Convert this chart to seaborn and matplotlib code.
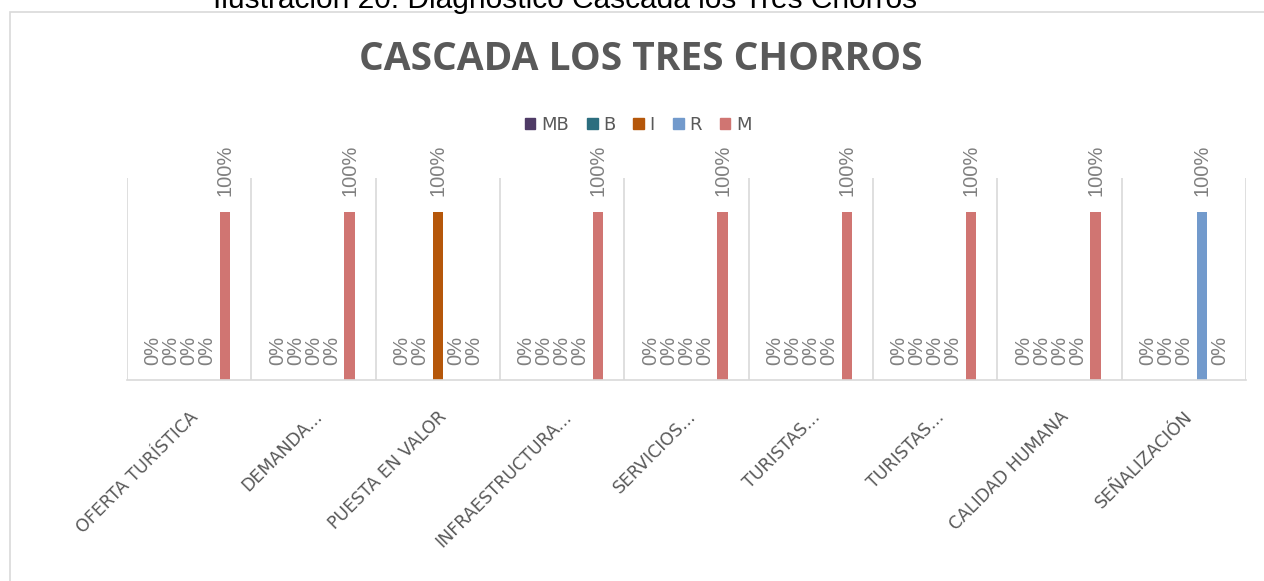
import numpy as np
import pandas as pd
import matplotlib
matplotlib.use("Agg")
from matplotlib import pyplot as plt
from matplotlib.patches import Rectangle
import seaborn as sns

# categorias del diagnostico
categorias = ["OFERTA TURÍSTICA", "DEMANDA...", "PUESTA EN VALOR", "INFRAESTRUCTURA...",
              "SERVICIOS...", "TURISTAS...", "TURISTAS...", "CALIDAD HUMANA", "SEÑALIZACIÓN"]
series = ["MB", "B", "I", "R", "M"]

# valores en %
mb = [0, 0, 0, 0, 0, 0, 0, 0, 0]
b = [0, 0, 0, 0, 0, 0, 0, 0, 0]
i_val = [0, 0, 100, 0, 0, 0, 0, 0, 0]
r = [0, 0, 0, 0, 0, 0, 0, 0, 100]
m = [100, 100, 0, 100, 100, 100, 100, 100, 0]

colores = ["#4F3B66", "#2C6E7F", "#B5570A", "#729ACC", "#D07572"]

rows = []
for nombre, vals in zip(series, [mb, b, i_val, r, m]):
    for k, v in enumerate(vals):
        rows.append({"cat": k, "serie": nombre, "valor": v})
df = pd.DataFrame(rows)

sns.set_style("white")
plt.rcParams['font.family'] = ['DejaVu Sans']

fig = plt.figure(figsize=(12.64, 5.81), dpi=100)
ax = fig.add_axes([127/1264, 1-380/581, (1246-127)/1264, (380-178)/581])

sns.barplot(data=df, x="cat", y="valor", hue="serie", hue_order=series,
            palette=colores, width=0.724, gap=0.44, ax=ax, legend=False,
            saturation=1, linewidth=0)

ax.set_ylim(0, 120)
ax.set_xlim(-0.5, len(categorias) - 0.5)
ax.set_yticks([])
ax.set_ylabel("")
ax.set_xlabel("")
for s in ["top", "right", "left"]:
    ax.spines[s].set_visible(False)
ax.spines["bottom"].set_color("#D9D9D9")
ax.spines["bottom"].set_linewidth(1.2)

# lineas verticales entre categorias
for k in range(len(categorias) + 1):
    ax.axvline(k - 0.5, color="#D9D9D9", lw=1.2, zorder=0)

# etiquetas de datos
for cont in ax.containers:
    ax.bar_label(cont, labels=[f"{int(v)}%" for v in cont.datavalues],
                 rotation=90, padding=11, color="#808080", fontsize=14.5,
                 family="Liberation Sans")

ax.set_xticks(range(len(categorias)))
ax.set_xticklabels(categorias, rotation=45, ha="right", rotation_mode="anchor",
                   color="#595959", fontsize=12.5)
ax.tick_params(axis="x", length=0, pad=20)

# leyenda
handles = [Rectangle((0, 0), 1, 1, color=c) for c in colores]
fig.legend(handles, series, loc="center", bbox_to_anchor=(638/1264, 1-125/581),
           ncol=5, frameon=False, fontsize=13, handlelength=0.6, handleheight=0.6,
           handletextpad=0.3, columnspacing=1.0, labelcolor="#595959")

fig.text(641/1264, 1-60/581, "CASCADA LOS TRES CHORROS", ha="center", va="center",
         fontsize=28, fontweight="bold", color="#595959", family="Open Sans")

fig.text(565/1264, 1-8/581, "Ilustración 20: Diagnóstico Cascada los Tres Chorros",
         ha="center", va="baseline", fontsize=21.5, color="black", family="Liberation Sans")

# marco del grafico
fig.add_artist(Rectangle((10/1264, -0.05), 1.1, 1-12/581 + 0.05,
                         transform=fig.transFigure, fill=False,
                         edgecolor="#D9D9D9", lw=1.2))

fig.savefig("out.png", dpi=100)
